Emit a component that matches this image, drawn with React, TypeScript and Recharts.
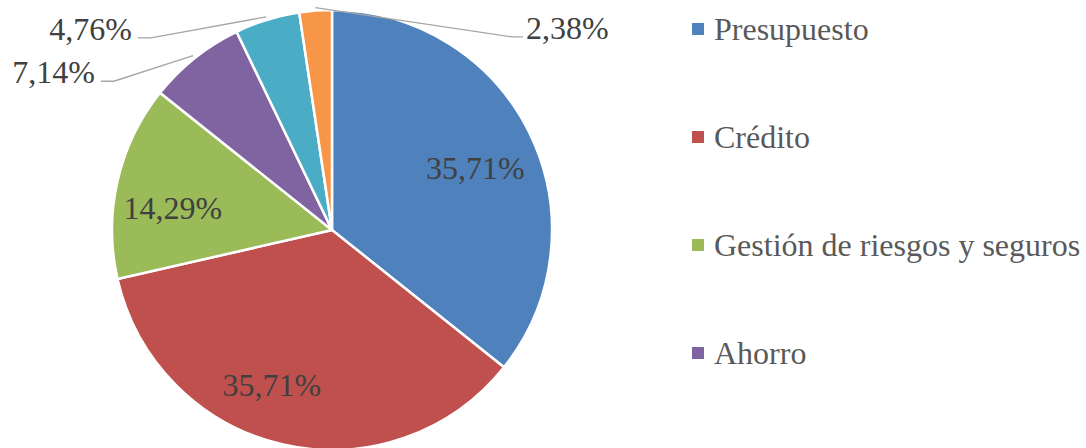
import { PieChart, Pie, Cell } from 'recharts'

const categories = [
  'Presupuesto',
  'Crédito',
  'Gestión de riesgos y seguros',
  'Ahorro',
  'Inversión',
  'Otros',
]
const shares = [35.71, 35.71, 14.29, 7.14, 4.76, 2.38]
const colors = ['#4F81BD', '#C0504D', '#9BBB59', '#8064A2', '#4BACC6', '#F79646']

// only the first legend rows fit inside the frame
const legendVisible = 4

// label placement (best fit), polar: angle in degrees, radius as a factor of the pie.
// inside labels sit at that spot; outside ones use it as the bend of the leader line
const labelSpots: { angle: number; k: number; outside?: boolean }[] = [
  { angle: 23.4, k: 0.71 },
  { angle: -111.2, k: 0.755 },
  { angle: 172.1, k: 0.73 },
  { angle: 145.7, k: 1.2, outside: true },
  { angle: 133.3, k: 1.2, outside: true },
  { angle: 47, k: 1.2, outside: true },
]

const data = categories.map((name, i) => ({ name, value: shares[i] }))

const RAD = Math.PI / 180
const FONT = '"Liberation Serif", "Times New Roman", serif'
const fmt = (p: number) => (p * 100).toFixed(2).replace('.', ',') + '%'

function SliceLabel(props: any) {
  const { cx, cy, midAngle, outerRadius, percent, index } = props
  const spot = labelSpots[index]
  const textStyle = { fontFamily: FONT, fontSize: 32 }
  const r1 = outerRadius * spot.k
  const px = cx + r1 * Math.cos(-spot.angle * RAD)
  const py = cy + r1 * Math.sin(-spot.angle * RAD)
  if (!spot.outside) {
    return (
      <text x={px} y={py} fill="#404040" style={textStyle} textAnchor="middle" dominantBaseline="central">
        {fmt(percent)}
      </text>
    )
  }
  const r0 = outerRadius + 3
  const sx = cx + r0 * Math.cos(-midAngle * RAD)
  const sy = cy + r0 * Math.sin(-midAngle * RAD)
  const left = px < cx
  const ex = px + (left ? -13 : 11)
  const tx = ex + (left ? -6 : 3)
  return (
    <g>
      <polyline points={`${sx},${sy} ${px},${py} ${ex},${py}`} fill="none" stroke="#A6A6A6" strokeWidth={1.4} />
      <text x={tx} y={py + 2} fill="#404040" style={textStyle} textAnchor={left ? 'end' : 'start'}>
        {fmt(percent)}
      </text>
    </g>
  )
}

function LegendList() {
  return (
    <div style={{ position: 'absolute', left: 692, top: 0, width: 394, height: 448 }}>
      {categories.slice(0, legendVisible).map((name, i) => (
        <div
          key={name}
          style={{
            position: 'absolute',
            left: 0,
            top: 29 + i * 108 - 20,
            height: 40,
            display: 'flex',
            alignItems: 'center',
            whiteSpace: 'nowrap',
          }}
        >
          <span style={{ width: 12, height: 12, background: colors[i], display: 'inline-block', marginRight: 10 }} />
          <span style={{ fontFamily: FONT, fontSize: 32, color: '#595959', lineHeight: '40px' }}>{name}</span>
        </div>
      ))}
    </div>
  )
}

export default function App() {
  return (
    <div style={{ position: 'absolute', left: 0, top: 0, width: 1086, height: 448, background: '#fff', overflow: 'hidden' }}>
      <PieChart width={1086} height={448} margin={{ top: 0, right: 0, bottom: 0, left: 0 }}>
        <Pie
          data={data}
          dataKey="value"
          nameKey="name"
          cx={332}
          cy={230}
          outerRadius={220}
          startAngle={90}
          endAngle={-270}
          stroke="#fff"
          strokeWidth={2.5}
          label={SliceLabel}
          labelLine={false}
          isAnimationActive={false}
        >
          {data.map((d, i) => (
            <Cell key={d.name} fill={colors[i]} />
          ))}
        </Pie>
      </PieChart>
      <LegendList />
    </div>
  )
}
